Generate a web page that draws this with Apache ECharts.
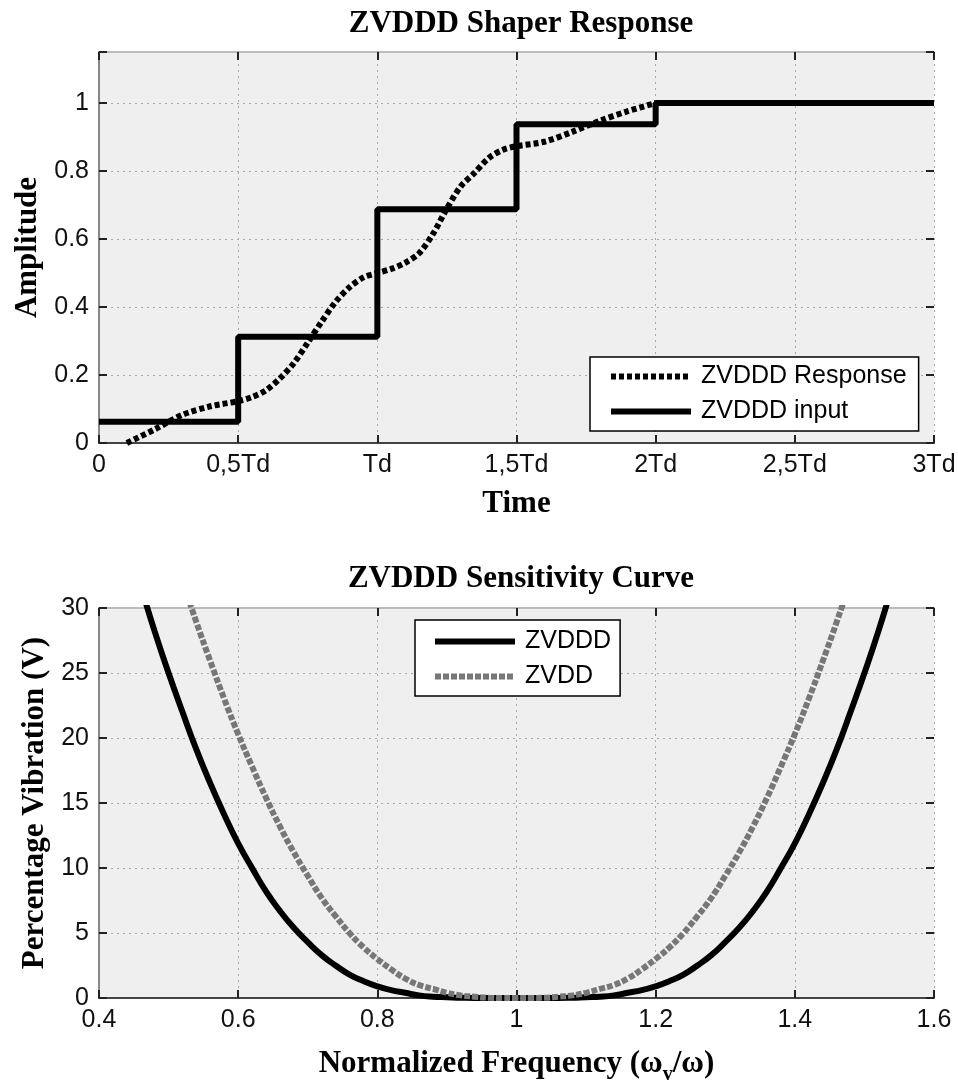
<!DOCTYPE html>
<html>
<head>
<meta charset="utf-8">
<title>ZVDDD Shaper</title>
<script src="https://cdn.jsdelivr.net/npm/echarts@6/dist/echarts.min.js"></script>
<style>
  html, body { margin: 0; padding: 0; background: #fff; }
  #chart { width: 958px; height: 1081px; }
</style>
</head>
<body>
<div id="chart"></div>
<script>
// top plot: shaper response, time in units of Td
const timeTicks = ['0', '0,5Td', 'Td', '1,5Td', '2Td', '2,5Td', '3Td']
const inputTime = [0, 0.5, 1, 1.5, 2, 3]
const inputAmp = [0.0625, 0.3125, 0.6875, 0.9375, 1, 1]
const respTime = [0.1, 0.2, 0.3, 0.4, 0.5, 0.55, 0.6, 0.65, 0.7, 0.75, 0.8, 0.85, 0.9, 0.95, 1.0,
  1.05, 1.1, 1.15, 1.2, 1.25, 1.3, 1.35, 1.4, 1.45, 1.5, 1.6, 1.7, 1.8, 1.9, 2.0]
const respAmp = [0.0, 0.04, 0.083, 0.108, 0.123, 0.135, 0.155, 0.19, 0.235, 0.295, 0.357, 0.415, 0.458, 0.487, 0.5,
  0.512, 0.53, 0.558, 0.615, 0.69, 0.755, 0.795, 0.838, 0.862, 0.873, 0.886, 0.915, 0.948, 0.976, 1.0]

// bottom plot: sensitivity curves (percentage vibration vs normalized frequency)
const freq = [0.46, 0.48, 0.50, 0.52, 0.54, 0.56, 0.58, 0.60, 0.62, 0.64, 0.66, 0.68, 0.70, 0.72,
  0.74, 0.76, 0.78, 0.80, 0.82, 0.84, 0.86, 0.88, 0.90, 0.92, 0.94, 0.96, 0.98, 1.00,
  1.02, 1.04, 1.06, 1.08, 1.10, 1.12, 1.14, 1.16, 1.18, 1.20, 1.22, 1.24, 1.26, 1.28,
  1.30, 1.32, 1.34, 1.36, 1.38, 1.40, 1.42, 1.44, 1.46, 1.48, 1.50, 1.52, 1.54]
const zvdddVib = [31.7, 28.2, 25.0, 22.0, 19.1, 16.5, 14.1, 11.9, 10.0, 8.2, 6.7, 5.4, 4.3, 3.3,
  2.5, 1.8, 1.3, 0.9, 0.6, 0.4, 0.2, 0.1, 0.06, 0.02, 0, 0, 0, 0,
  0, 0, 0, 0.02, 0.06, 0.1, 0.2, 0.4, 0.6, 0.9, 1.3, 1.8, 2.5, 3.3,
  4.3, 5.4, 6.7, 8.2, 10.0, 11.9, 14.1, 16.5, 19.1, 22.0, 25.0, 28.2, 31.7]
const zvddVib = [42.2, 38.7, 35.4, 32.1, 28.9, 25.9, 23.0, 20.3, 17.8, 15.4, 13.2, 11.2, 9.4, 7.7,
  6.3, 5.0, 3.9, 3.0, 2.2, 1.5, 1.0, 0.7, 0.4, 0.2, 0.1, 0.02, 0, 0,
  0, 0.02, 0.1, 0.2, 0.4, 0.7, 1.0, 1.5, 2.2, 3.0, 3.9, 5.0, 6.3, 7.7,
  9.4, 11.2, 13.2, 15.4, 17.8, 20.3, 23.0, 25.9, 28.9, 32.1, 35.4, 38.7, 42.2]

const serif = 'Liberation Serif, "Times New Roman", serif'
const sans = 'Liberation Sans, Arial, sans-serif'
const boldText = { fontFamily: serif, fontWeight: 'bold', fontSize: 31, color: '#000' }
const tickText = { fontFamily: sans, fontSize: 25, color: '#111', margin: 10 }
const tickStyle = { show: true, inside: true, length: 8, lineStyle: { color: '#222', width: 2 } }
const gridLine = { show: true, lineStyle: { color: '#a8a8a8', width: 1, type: [2, 4] } }

function zip(xs, ys) {
  return xs.map((x, i) => [x, ys[i]])
}

// main axis (bottom / left) with labels and grid lines
function mainAxis(gridIndex, pos, min, max, interval, extra) {
  return Object.assign({
    type: 'value',
    gridIndex: gridIndex,
    position: pos,
    min: min,
    max: max,
    interval: interval,
    axisLine: { show: true, onZero: false, lineStyle: { color: pos === 'bottom' ? '#444' : '#888', width: 2 } },
    axisTick: tickStyle,
    axisLabel: Object.assign({}, tickText),
    splitLine: gridLine,
    nameLocation: 'middle',
    nameTextStyle: boldText
  }, extra)
}

// mirrored axis (top / right): only ticks
function mirrorAxis(gridIndex, pos, min, max, interval) {
  return {
    type: 'value',
    gridIndex: gridIndex,
    position: pos,
    min: min,
    max: max,
    interval: interval,
    axisLine: { show: pos === 'top', onZero: false, lineStyle: { color: '#bbb', width: 2 } },
    axisTick: tickStyle,
    axisLabel: { show: false },
    splitLine: { show: false }
  }
}

function legendBox(names, left, top, padding) {
  return {
    data: names,
    orient: 'vertical',
    left: left,
    top: top,
    padding: padding,
    itemGap: 10,
    itemWidth: 80,
    itemHeight: 14,
    backgroundColor: '#fff',
    borderColor: '#000',
    borderWidth: 1.5,
    borderRadius: 0,
    selectedMode: false,
    itemStyle: { opacity: 0, borderWidth: 0 }, // no marker in the middle of the line sample
    lineStyle: { width: 6 },
    textStyle: { fontFamily: sans, fontSize: 25, color: '#000', lineHeight: 25, padding: [0, 0, 0, 5] }
  }
}

const chart = echarts.init(document.getElementById('chart'))
const option = {
  animation: false,
  backgroundColor: '#fff',
  title: [
    { text: 'ZVDDD Shaper Response', left: 516, top: 3, textAlign: 'center', textStyle: boldText },
    { text: 'ZVDDD Sensitivity Curve', left: 516, top: 558, textAlign: 'center', textStyle: boldText }
  ],
  grid: [
    { left: 99, top: 52, width: 835, height: 391, show: true, backgroundColor: '#efefef', borderWidth: 0, outerBoundsMode: 'none' },
    { left: 99, top: 608, width: 835, height: 390, show: true, backgroundColor: '#efefef', borderWidth: 0, outerBoundsMode: 'none' }
  ],
  legend: [
    legendBox(['ZVDDD Response', 'ZVDDD input'], 590, 357, [7, 12, 7, 18]),
    legendBox(['ZVDDD', 'ZVDD'], 415, 620, [9, 9, 7, 17])
  ],
  xAxis: [
    mainAxis(0, 'bottom', 0, 3, 0.5, {
      name: 'Time',
      nameGap: 45,
      axisLabel: Object.assign({}, tickText, { formatter: v => timeTicks[Math.round(v / 0.5)] })
    }),
    mirrorAxis(0, 'top', 0, 3, 0.5),
    mainAxis(1, 'bottom', 0.4, 1.6, 0.2, {
      name: '{t|Normalized Frequency (ω}{s|v}{t|/ω)}',
      nameGap: 45,
      nameTextStyle: {
        rich: {
          t: boldText,
          s: { fontFamily: serif, fontWeight: 'bold', fontSize: 20, color: '#000', padding: [22, 0, 0, 0] }
        }
      }
    }),
    mirrorAxis(1, 'top', 0.4, 1.6, 0.2)
  ],
  yAxis: [
    mainAxis(0, 'left', 0, 1.15, 0.2, {
      name: 'Amplitude',
      nameGap: 50,
      axisLabel: Object.assign({}, tickText, { formatter: v => (v > 1.05 ? '' : String(+v.toFixed(1))) })
    }),
    mirrorAxis(0, 'right', 0, 1.15, 0.2),
    mainAxis(1, 'left', 0, 30, 5, { name: 'Percentage Vibration (V)', nameGap: 48 }),
    mirrorAxis(1, 'right', 0, 30, 5)
  ],
  series: [
    {
      name: 'ZVDDD Response',
      type: 'line',
      xAxisIndex: 0,
      yAxisIndex: 0,
      data: zip(respTime, respAmp),
      smooth: 0.3,
      symbol: 'none',
      itemStyle: { color: '#000' },
      lineStyle: { color: '#000', width: 6, type: [5, 3] }
    },
    {
      name: 'ZVDDD input',
      type: 'line',
      xAxisIndex: 0,
      yAxisIndex: 0,
      data: zip(inputTime, inputAmp),
      step: 'end',
      symbol: 'none',
      itemStyle: { color: '#000' },
      lineStyle: { color: '#000', width: 6 }
    },
    {
      name: 'ZVDDD',
      type: 'line',
      xAxisIndex: 2,
      yAxisIndex: 2,
      data: zip(freq, zvdddVib),
      smooth: true,
      symbol: 'none',
      itemStyle: { color: '#000' },
      lineStyle: { color: '#000', width: 6 }
    },
    {
      name: 'ZVDD',
      type: 'line',
      xAxisIndex: 2,
      yAxisIndex: 2,
      data: zip(freq, zvddVib),
      smooth: true,
      symbol: 'none',
      itemStyle: { color: '#777' },
      lineStyle: { color: '#777', width: 6, type: [6, 2] }
    }
  ]
}
chart.setOption(option)
</script>
</body>
</html>
